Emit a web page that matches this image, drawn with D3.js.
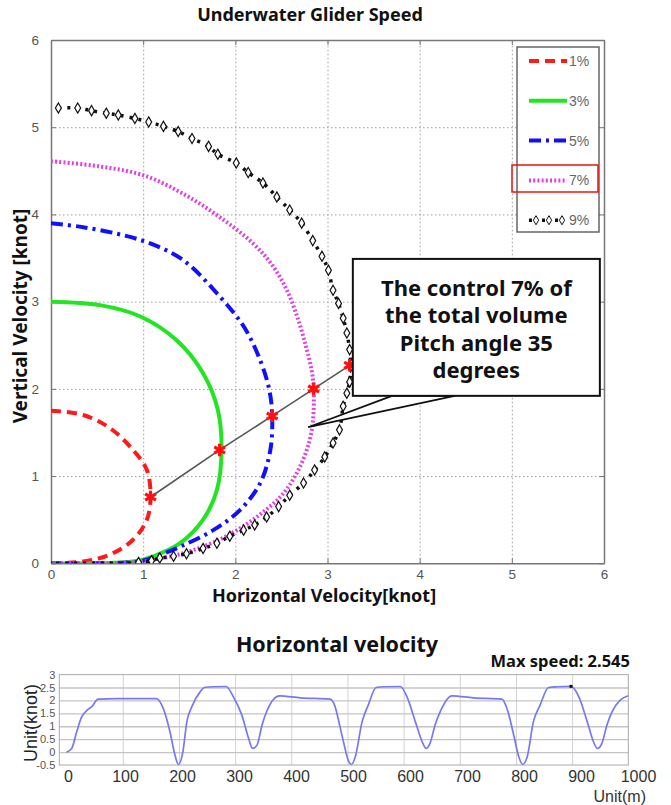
<!DOCTYPE html>
<html>
<head>
<meta charset="utf-8">
<script src="https://cdn.jsdelivr.net/npm/d3@7"></script>
<style>
body { margin: 0; background: #fff; }
svg { display: block; }
</style>
</head>
<body>
<div id="chart"></div>
<script>
// ---- glider speed polar: [horizontal, vertical] in knot
const seriesNames = ["1%", "3%", "5%", "7%", "9%"];
const pct1 = [[0,1.75],[0.35,1.70],[0.64,1.55],[0.89,1.30],[1.04,1.07],[1.08,0.76],[1.04,0.50],[0.89,0.27],[0.64,0.10],[0.35,0.02],[0,0]];
const pct3 = [[0,3.0],[0.53,2.96],[0.97,2.83],[1.36,2.56],[1.65,2.18],[1.81,1.76],[1.85,1.30],[1.80,0.84],[1.65,0.50],[1.40,0.23],[1.11,0.08],[0.89,0.02],[0.5,0],[0,0]];
const pct5 = [[0,3.90],[0.31,3.86],[0.71,3.78],[1.07,3.67],[1.43,3.48],[1.83,3.06],[2.10,2.70],[2.28,2.30],[2.37,1.98],[2.40,1.69],[2.38,1.30],[2.27,0.92],[2.05,0.61],[1.76,0.38],[1.40,0.19],[1.14,0.08],[0.95,0.02],[0.5,0],[0,0]];
const pct7 = [[0,4.61],[0.53,4.55],[1.00,4.45],[1.43,4.24],[1.83,3.97],[2.19,3.67],[2.40,3.42],[2.56,3.13],[2.68,2.80],[2.77,2.47],[2.83,2.20],[2.85,2.00],[2.83,1.53],[2.72,1.15],[2.52,0.80],[2.23,0.53],[1.90,0.31],[1.54,0.15],[1.22,0.06],[1.0,0.02],[0.5,0],[0,0]];
const pct9 = [[0.08,5.22],[0.29,5.22],[0.44,5.19],[0.60,5.16],[0.73,5.14],[0.91,5.10],[1.06,5.06],[1.22,5.01],[1.38,4.95],[1.53,4.87],[1.71,4.78],[1.81,4.69],[2.01,4.59],[2.14,4.48],[2.30,4.36],[2.45,4.20],[2.59,4.05],[2.72,3.90],[2.84,3.70],[2.94,3.52],[3.01,3.36],[3.06,3.13],[3.12,2.98],[3.17,2.81],[3.21,2.64],[3.24,2.45],[3.25,2.25],[3.24,2.08],[3.21,1.95],[3.17,1.80],[3.13,1.53],[3.06,1.38],[2.97,1.22],[2.86,1.07],[2.74,0.92],[2.59,0.78],[2.47,0.65],[2.34,0.53],[2.21,0.44],[2.09,0.38],[1.94,0.31],[1.80,0.23],[1.65,0.17],[1.47,0.11],[1.33,0.08],[1.18,0.06],[1.09,0.03],[0.95,0.01],[0.7,0],[0.45,0],[0.2,0],[0,0]];
const starH = [1.08, 1.83, 2.40, 2.85, 3.24];
const starV = [0.76, 1.30, 1.69, 2.00, 2.27];
const velTicks = [0, 1, 2, 3, 4, 5, 6];
const calloutLines = ["The control 7% of", "the total volume", "Pitch angle 35", "degrees"];

// ---- horizontal velocity along the track
const distM = [0,9,18,27,37,45,56,89,160,172,184,193,199,207,214,223,238,245,261,284,297,312,324,331,339,348,356,379,416,469,478,486,494,501,507,514,526,537,551,564,594,606,621,633,640,647,656,665,686,724,775,784,796,805,812,820,831,843,858,873,898,912,927,938,945,953,962,971,986,1000];
const speedKnot = [0,0.14,0.79,1.37,1.63,1.76,2.05,2.07,2.07,1.69,0.79,-0.12,-0.48,0.01,1.17,1.76,2.34,2.50,2.53,2.54,2.14,1.43,0.53,0.14,0.27,1.05,1.56,2.18,2.10,2.05,1.76,1.05,0.30,-0.30,-0.48,-0.18,1.17,1.82,2.50,2.53,2.54,2.14,1.17,0.40,0.14,0.34,1.05,1.56,2.18,2.10,2.05,1.69,0.66,-0.18,-0.48,-0.18,1.17,1.82,2.50,2.53,2.545,2.14,1.17,0.40,0.14,0.34,1.05,1.56,2.02,2.18];
const distTicks = [0,100,200,300,400,500,600,700,800,900,1000];
const speedTicks = [-0.5,0,0.5,1,1.5,2,2.5,3];
const maxSpeedText = "Max speed: 2.545";

const width = 671, height = 805;
const tickFont = "'Liberation Sans', Arial, sans-serif";
const boldFont = "'Noto Sans', 'Open Sans', sans-serif";

const svg = d3.select("#chart").append("svg")
    .attr("width", width)
    .attr("height", height)
    .attr("viewBox", `0 0 ${width} ${height}`);

//========== Top chart ==========
const m = {left: 51, right: 604, top: 40, bottom: 563.3};
const x = d3.scaleLinear().domain([0, 6]).range([m.left, m.right]);
const y = d3.scaleLinear().domain([0, 6]).range([m.bottom, m.top]);
const topChart = svg.append("g");

//Gridlines
topChart.append("g")
    .attr("transform", `translate(0,${m.bottom})`)
    .call(d3.axisBottom(x).tickValues(velTicks.slice(1, -1)).tickSize(-(m.bottom - m.top)).tickFormat(""))
    .call(g => g.select(".domain").remove())
    .call(g => g.selectAll("line").attr("stroke", "#9c9c9c").attr("stroke-dasharray", "1.5,2.5"));
topChart.append("g")
    .attr("transform", `translate(${m.left},0)`)
    .call(d3.axisLeft(y).tickValues(velTicks.slice(1, -1)).tickSize(-(m.right - m.left)).tickFormat(""))
    .call(g => g.select(".domain").remove())
    .call(g => g.selectAll("line").attr("stroke", "#9c9c9c").attr("stroke-dasharray", "1.5,2.5"));

//Axes (matlab style, ticks inside)
const styleAxis = g => {
    g.select(".domain").attr("stroke", "#777").attr("stroke-width", 1.5);
    g.selectAll(".tick line").attr("stroke", "#777");
    g.selectAll("text").attr("font-family", tickFont).attr("font-size", 13.5).attr("fill", "#555");
};
const intFmt = d3.format("d");
topChart.append("g").attr("transform", `translate(0,${m.bottom})`)
    .call(d3.axisBottom(x).tickValues(velTicks).tickFormat(intFmt).tickSizeInner(-5).tickSizeOuter(0).tickPadding(6))
    .call(styleAxis);
topChart.append("g").attr("transform", `translate(${m.left},0)`)
    .call(d3.axisLeft(y).tickValues(velTicks).tickFormat(intFmt).tickSizeInner(-5).tickSizeOuter(0).tickPadding(12))
    .call(styleAxis);
topChart.append("g").attr("transform", `translate(0,${m.top})`)
    .call(d3.axisTop(x).tickValues(velTicks).tickSizeInner(-5).tickSizeOuter(0).tickFormat(""))
    .call(styleAxis);
topChart.append("g").attr("transform", `translate(${m.right},0)`)
    .call(d3.axisRight(y).tickValues(velTicks).tickSizeInner(-5).tickSizeOuter(0).tickFormat(""))
    .call(styleAxis);

//Curves
svg.append("clipPath").attr("id", "plotClip")
    .append("rect").attr("x", m.left).attr("y", m.top - 5)
    .attr("width", m.right - m.left).attr("height", m.bottom - m.top + 5);

const polar = d3.line()
    .x(d => x(d[0]))
    .y(d => y(d[1]))
    .curve(d3.curveCatmullRom.alpha(0.5));

const seriesData = [pct1, pct3, pct5, pct7, pct9];
const seriesStyle = [
    {color: "#ff1a1a", dash: "10,6", w: 4},
    {color: "#22e522", dash: null, w: 4},
    {color: "#1010ff", dash: "12,5,3,5", w: 4},
    {color: "#e040e0", dash: "2,2.2", w: 4},
    {color: "#111", dash: "3,6", w: 3.5}
];
const curves = topChart.append("g").attr("clip-path", "url(#plotClip)");
seriesData.forEach((data, i) => {
    curves.append("path")
        .datum(data)
        .attr("fill", "none")
        .attr("stroke", seriesStyle[i].color)
        .attr("stroke-width", seriesStyle[i].w)
        .attr("stroke-dasharray", seriesStyle[i].dash)
        .attr("d", polar);
});
curves.selectAll(".diamond")
    .data(pct9.filter(d => d[1] > 0))
    .enter()
    .append("path")
        .attr("class", "diamond")
        .attr("transform", d => `translate(${x(d[0])},${y(d[1])})`)
        .attr("d", d3.symbol(d3.symbolDiamond, 30))
        .attr("fill", "#fff")
        .attr("stroke", "#111")
        .attr("stroke-width", 1.2);

//Pitch 35 deg line & stars
const stars = starH.map((h, i) => [h, starV[i]]);
topChart.append("path")
    .datum(stars)
    .attr("fill", "none")
    .attr("stroke", "#555")
    .attr("stroke-width", 1.6)
    .attr("d", d3.line().x(d => x(d[0])).y(d => y(d[1])));
topChart.selectAll(".star")
    .data(stars)
    .enter()
    .append("path")
        .attr("class", "star")
        .attr("transform", d => `translate(${x(d[0])},${y(d[1])})`)
        .attr("d", d3.symbol(d3.symbolAsterisk, 110))
        .attr("fill", "none")
        .attr("stroke", "#ff1010")
        .attr("stroke-width", 3.2);

//Callout
const box = {x0: x(3.275), x1: x(5.955), y0: y(3.49), y1: y(1.92)};
topChart.append("path")
    .attr("d", `M${x(3.70)},${box.y1}L${x(2.79)},${y(1.56)}L${x(4.38)},${box.y1}Z`)
    .attr("fill", "#fff")
    .attr("stroke", "#111")
    .attr("stroke-width", 1.8);
topChart.append("rect")
    .attr("x", box.x0).attr("y", box.y0)
    .attr("width", box.x1 - box.x0).attr("height", box.y1 - box.y0)
    .attr("fill", "#fff")
    .attr("stroke", "#111")
    .attr("stroke-width", 2);
topChart.append("g").selectAll("text")
    .data(calloutLines)
    .enter()
    .append("text")
        .attr("x", (box.x0 + box.x1) / 2)
        .attr("y", (d, i) => box.y0 + 37 + i * 27.3)
        .attr("text-anchor", "middle")
        .attr("font-family", boldFont)
        .attr("font-weight", "bold")
        .attr("font-size", 22)
        .attr("fill", "#111")
        .text(d => d);

//Legend
const legend = topChart.append("g");
legend.append("rect")
    .attr("x", 517).attr("y", 47).attr("width", 82).attr("height", 185)
    .attr("fill", "#fff").attr("stroke", "#666").attr("stroke-width", 1.5);
seriesNames.forEach((name, i) => {
    const ly = 61 + i * 39.8;
    const s = seriesStyle[i];
    legend.append("line")
        .attr("x1", 529).attr("x2", 567).attr("y1", ly).attr("y2", ly)
        .attr("stroke", s.color).attr("stroke-width", s.w)
        .attr("stroke-dasharray", i === 4 ? "3,10" : s.dash);
    if (i === 4) {
        [536, 549, 562].forEach(lx => legend.append("path")
            .attr("transform", `translate(${lx},${ly})`)
            .attr("d", d3.symbol(d3.symbolDiamond, 24))
            .attr("fill", "#fff").attr("stroke", "#111").attr("stroke-width", 1));
    }
    legend.append("text")
        .attr("x", 569).attr("y", ly)
        .attr("dy", "0.35em")
        .attr("font-family", tickFont)
        .attr("font-size", 14)
        .attr("fill", "#666")
        .text(name);
});
legend.append("rect")
    .attr("x", 512).attr("y", 165).attr("width", 86).attr("height", 27)
    .attr("fill", "none").attr("stroke", "#ee1111").attr("stroke-width", 1.5);

//Title & labels
topChart.append("text")
    .attr("x", 310).attr("y", 21)
    .attr("text-anchor", "middle")
    .attr("font-family", boldFont).attr("font-weight", "bold").attr("font-size", 18)
    .attr("fill", "#111")
    .text("Underwater Glider Speed");
topChart.append("text")
    .attr("x", 324).attr("y", 602)
    .attr("text-anchor", "middle")
    .attr("font-family", boldFont).attr("font-weight", "bold").attr("font-size", 18)
    .attr("fill", "#111")
    .text("Horizontal Velocity[knot]");
topChart.append("text")
    .attr("transform", "translate(20,316) rotate(-90)")
    .attr("dy", "0.35em")
    .attr("text-anchor", "middle")
    .attr("font-family", boldFont).attr("font-weight", "bold").attr("font-size", 19)
    .attr("fill", "#111")
    .text("Vertical Velocity [knot]");

//========== Bottom chart ==========
const b = {left: 59.3, right: 628.3, top: 674.6, bottom: 765};
const bx = d3.scaleLinear().domain([-13, 1000]).range([b.left, b.right]);
const by = d3.scaleLinear().domain([-0.5, 3]).range([b.bottom, b.top]);
const bxLabel = d3.scaleLinear().domain([0, 1000]).range([68, 638]);
const bottomChart = svg.append("g");

bottomChart.append("g")
    .attr("transform", `translate(0,${b.bottom})`)
    .call(d3.axisBottom(bx).tickValues(distTicks.slice(1, -1)).tickSize(-(b.bottom - b.top)).tickFormat(""))
    .call(g => g.select(".domain").remove())
    .call(g => g.selectAll("line").attr("stroke", "#d2d2d2"));
bottomChart.append("g")
    .attr("transform", `translate(${b.left},0)`)
    .call(d3.axisLeft(by).tickValues(speedTicks.slice(1, -1)).tickSize(-(b.right - b.left)).tickFormat(""))
    .call(g => g.select(".domain").remove())
    .call(g => g.selectAll("line").attr("stroke", "#c4c4c4").attr("stroke-width", 1.3));
bottomChart.append("rect")
    .attr("x", b.left).attr("y", b.top)
    .attr("width", b.right - b.left).attr("height", b.bottom - b.top)
    .attr("fill", "none").attr("stroke", "#aaa");

bottomChart.append("g")
    .attr("transform", `translate(0,${b.bottom})`)
    .call(d3.axisBottom(bxLabel).tickValues(distTicks).tickFormat(intFmt).tickSize(0).tickPadding(6))
    .call(g => g.select(".domain").remove())
    .call(g => g.selectAll("text")
        .attr("font-family", "'Liberation Sans Narrow', 'Arial Narrow', 'Liberation Sans', sans-serif")
        .attr("font-size", 16).attr("fill", "#333"));
bottomChart.append("g")
    .attr("transform", `translate(${b.left},0)`)
    .call(d3.axisLeft(by).tickValues(speedTicks).tickFormat(d => String(d)).tickSize(0).tickPadding(4))
    .call(g => g.select(".domain").remove())
    .call(g => g.selectAll("text")
        .attr("font-family", tickFont).attr("font-size", 11).attr("fill", "#555"));

const track = distM.map((d, i) => [d, speedKnot[i]]);
bottomChart.append("path")
    .datum(track)
    .attr("fill", "none")
    .attr("stroke", "#7878f2")
    .attr("stroke-width", 1.7)
    .attr("d", d3.line().x(d => bx(d[0])).y(d => by(d[1])).curve(d3.curveMonotoneX));
const maxPt = track[d3.maxIndex(speedKnot)];
bottomChart.append("rect")
    .attr("x", bx(maxPt[0]) - 1.5).attr("y", by(maxPt[1]) - 1.5)
    .attr("width", 3).attr("height", 3)
    .attr("fill", "#111");

bottomChart.append("text")
    .attr("x", 337).attr("y", 652)
    .attr("text-anchor", "middle")
    .attr("font-family", boldFont).attr("font-weight", "bold").attr("font-size", 21.5)
    .attr("fill", "#111")
    .text("Horizontal velocity");
bottomChart.append("text")
    .attr("x", 630).attr("y", 667)
    .attr("text-anchor", "end")
    .attr("font-family", boldFont).attr("font-weight", "bold").attr("font-size", 16.5)
    .attr("fill", "#111")
    .text(maxSpeedText);
bottomChart.append("text")
    .attr("transform", "translate(31,723) rotate(-90)")
    .attr("dy", "0.35em")
    .attr("text-anchor", "middle")
    .attr("font-family", tickFont).attr("font-size", 18)
    .attr("fill", "#222")
    .text("Unit(knot)");
bottomChart.append("text")
    .attr("x", 646).attr("y", 802)
    .attr("text-anchor", "end")
    .attr("font-family", tickFont).attr("font-size", 16)
    .attr("fill", "#333")
    .text("Unit(m)");
</script>
</body>
</html>
